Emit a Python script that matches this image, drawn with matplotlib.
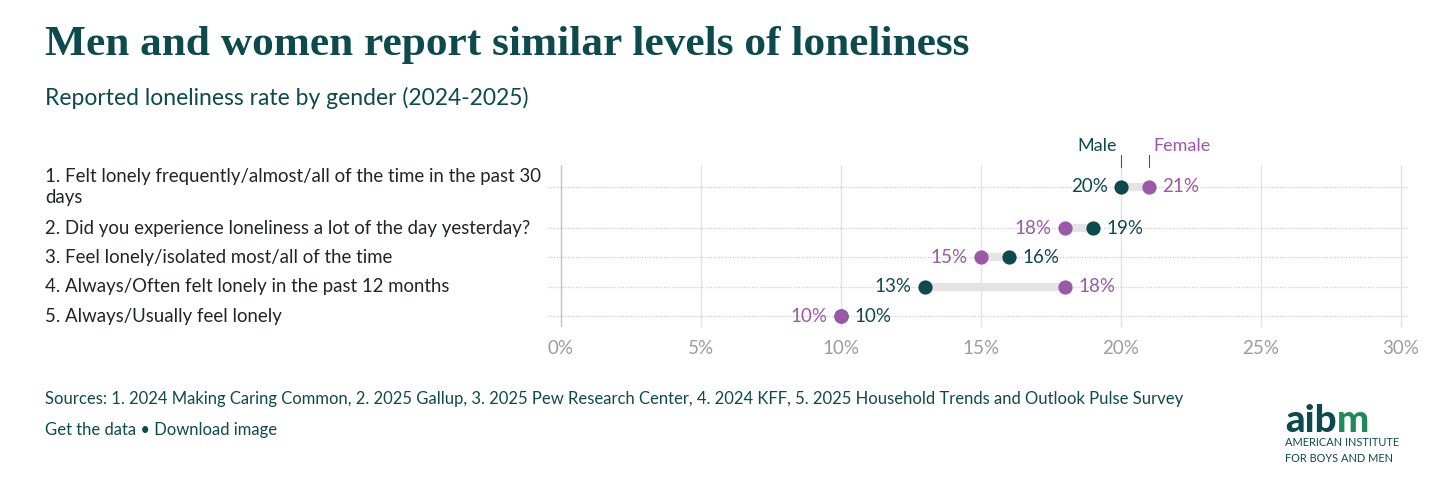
import matplotlib
matplotlib.use("Agg")
import matplotlib.pyplot as plt
from matplotlib import transforms

# ---------------- data ----------------
categories = [
    "1. Felt lonely frequently/almost/all of the time in the past 30\ndays",
    "2. Did you experience loneliness a lot of the day yesterday?",
    "3. Feel lonely/isolated most/all of the time",
    "4. Always/Often felt lonely in the past 12 months",
    "5. Always/Usually feel lonely",
]
male = [20, 19, 16, 13, 10]
female = [21, 18, 15, 18, 10]
x_ticks = [0, 5, 10, 15, 20, 25, 30]
x_tick_labels = ["0%", "5%", "10%", "15%", "20%", "25%", "30%"]
series_names = ["Male", "Female"]

title = "Men and women report similar levels of loneliness"
subtitle = "Reported loneliness rate by gender (2024-2025)"
sources = ("Sources: 1. 2024 Making Caring Common, 2. 2025 Gallup, 3. 2025 Pew Research Center, "
           "4. 2024 KFF, 5. 2025 Household Trends and Outlook Pulse Survey")
links = "Get the data \u2022 Download image"

# ---------------- style ----------------
TEAL = "#0d4a4e"
PURPLE = "#9b57a8"
GREEN = "#1f8a5b"
BAR = "#e4e4e4"
GRID = "#e2e2e2"
TICK = "#9c9c9c"
LABEL = "#1e2626"
SANS = ["Lato", "DejaVu Sans"]
SERIF = ["Liberation Serif", "DejaVu Serif"]

W, H = 1456, 496
fig = plt.figure(figsize=(W / 100, H / 100), dpi=100)
fig.patch.set_facecolor("white")
renderer = fig.canvas.get_renderer()


def fit(t, target_px):
    for _ in range(4):
        w = t.get_window_extent(renderer).width
        t.set_fontsize(t.get_fontsize() * target_px / w)
    return t


def fx(px):
    return px / W


def fy(py):
    return 1 - py / H


# row positions (layout): first row has a two-line label
row_pos = [0, 1.4, 2.4, 3.4, 4.4]

ax_left, ax_right, ax_top, ax_bottom = 548.4, 1408, 165, 327
ax = fig.add_axes([fx(ax_left), fy(ax_bottom), fx(ax_right - ax_left), (ax_bottom - ax_top) / H])
ax.set_xlim(-0.45, 30.25)
ax.set_ylim(4.4 + 0.375, -0.75)
for s in ax.spines.values():
    s.set_visible(False)
ax.set_yticks([])
ax.set_xticks(x_ticks)
ax.set_xticklabels(x_tick_labels, color=TICK, fontsize=13.5, family=SANS)
ax.tick_params(axis="x", length=0, pad=9)

for xt in x_ticks:
    ax.axvline(xt, color="#c4c4c4" if xt == 0 else GRID, lw=1.0, zorder=0)
for y in row_pos:
    ax.axhline(y, color="#cfcfcf", lw=0.9, ls=(0, (1, 1.2)), zorder=0)

off = 9.5  # points
VAL_FS = 13.5
for y, m, f in zip(row_pos, male, female):
    ax.plot([m, f], [y, y], color=BAR, lw=6, solid_capstyle="butt", zorder=2)
    ax.scatter([m], [y], s=105, color=TEAL, zorder=3, linewidths=0)
    ax.scatter([f], [y], s=105, color=PURPLE, zorder=4, linewidths=0)
    if m >= f:
        m_dx, m_ha, f_dx, f_ha = off, "left", -off, "right"
    else:
        m_dx, m_ha, f_dx, f_ha = -off, "right", off, "left"
    ax.annotate(f"{m:g}%", (m, y), xytext=(m_dx, 0), textcoords="offset points",
                ha=m_ha, va="center", color=TEAL, fontsize=VAL_FS, family=SANS)
    ax.annotate(f"{f:g}%", (f, y), xytext=(f_dx, 0), textcoords="offset points",
                ha=f_ha, va="center", color=PURPLE, fontsize=VAL_FS, family=SANS)

# series header above first row
hdr = transforms.blended_transform_factory(ax.transData, ax.transAxes)
y_top_line = (ax_bottom - 155) / (ax_bottom - ax_top)
y_bot_line = (ax_bottom - 167) / (ax_bottom - ax_top)
y_txt = (ax_bottom - 146) / (ax_bottom - ax_top)
for val, name, col, ha, dx in [(male[0], series_names[0], TEAL, "right", -3),
                               (female[0], series_names[1], PURPLE, "left", 3)]:
    ax.plot([val, val], [y_bot_line, y_top_line], transform=hdr, color="#555555",
            lw=0.8, clip_on=False)
    ax.annotate(name, (val, y_txt), xycoords=hdr, xytext=(dx, 0), textcoords="offset points",
                ha=ha, va="center", color=col, fontsize=13, family=SANS, annotation_clip=False)

# category labels
lab_tr = transforms.blended_transform_factory(fig.transFigure, ax.transData)
ref = fig.text(fx(45), row_pos[1], categories[1], transform=lab_tr, ha="left", va="center",
               color=LABEL, fontsize=12, family=SANS)
fit(ref, 486)
lab_size = ref.get_fontsize()
for i, (y, c) in enumerate(zip(row_pos, categories)):
    if i == 1:
        continue
    fig.text(fx(45), y, c, transform=lab_tr, ha="left", va="center", color=LABEL,
             fontsize=lab_size, family=SANS, linespacing=1.35)

# titles
t = fig.text(fx(45), fy(45), title, ha="left", va="center", color=TEAL,
             fontsize=24, fontweight="bold", family=SERIF)
fit(t, 923)
st = fig.text(fx(45), fy(98), subtitle, ha="left", va="center", color=TEAL,
              fontsize=15, family=SANS)
fit(st, 483)

# footer
sr = fig.text(fx(45), fy(399), sources, ha="left", va="center", color=TEAL,
              fontsize=12, family=SANS)
fit(sr, 1149)
lk = fig.text(fx(45), fy(430), links, ha="left", va="center", color=TEAL,
              fontsize=sr.get_fontsize(), family=SANS)

# logo
tmp = fig.text(fx(1285), fy(432), "aibm", ha="left", va="baseline",
               fontsize=24, fontweight="black", family=SANS)
fit(tmp, 84)
logo_fs = tmp.get_fontsize()
tmp.remove()
a = fig.text(fx(1285), fy(432), "aib", ha="left", va="baseline", color=TEAL,
             fontsize=logo_fs, fontweight="black", family=SANS)
bb = a.get_window_extent(renderer)
fig.text(bb.x1 / W, fy(432), "m", ha="left", va="baseline", color=GREEN,
         fontsize=logo_fs, fontweight="black", family=SANS)
l1 = fig.text(fx(1285), fy(442), "AMERICAN INSTITUTE", ha="left", va="center", color=TEAL,
              fontsize=8, family=SANS)
fit(l1, 114)
fig.text(fx(1285), fy(458), "FOR BOYS AND MEN", ha="left", va="center", color=TEAL,
         fontsize=l1.get_fontsize(), family=SANS)

fig.savefig("out.png", dpi=100, facecolor="white")
